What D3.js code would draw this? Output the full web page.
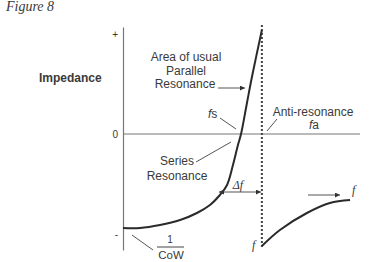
<!DOCTYPE html>
<html><head><meta charset="utf-8">
<script src="https://cdn.jsdelivr.net/npm/d3@7"></script>
<style>
html,body{margin:0;padding:0;background:#fff;}
svg{display:block;}
text{font-family:"Liberation Sans",Arial,sans-serif;fill:#3a3a3a;}
</style></head>
<body><svg id="c" width="386" height="262"></svg>
<script>
// Data (frequency units 0..100, impedance units -1..+1)
const yTickValues = [1, 0, -1];
const yTickLabels = ["+", "0", "-"];
const seriesCurveF = [0, 7.2, 15.6, 24.1, 31.2, 36.7, 40.9, 43.9, 46.4, 48.5, 49.8, 52.3, 54.4, 58.6];
const seriesCurveZ = [-0.94, -0.94, -0.91, -0.86, -0.79, -0.71, -0.61, -0.51, -0.31, -0.11, 0, 0.31, 0.57, 1.04];
const antiCurveF = [58.6, 66.2, 77.6, 87.3, 95.8];
const antiCurveZ = [-1.12, -0.96, -0.79, -0.69, -0.66];
const antiResonanceF = 58.6;
const zeroLineF = [0, 100];

const svg = d3.select("#c");
const x = d3.scaleLinear().domain([0, 100]).range([123, 360]);
const y = d3.scaleLinear().domain([-1.16, 1.07]).range([250, 27]);

const defs = svg.append("defs");
defs.append("marker").attr("id","ah").attr("viewBox","0 0 10 10").attr("refX",10).attr("refY",5)
  .attr("markerWidth",7).attr("markerHeight",5).attr("markerUnits","userSpaceOnUse").attr("orient","auto-start-reverse")
  .append("path").attr("d","M0,0L10,5L0,10z").attr("fill","#333");

// y axis
const yAxis = d3.axisLeft(y).tickValues(yTickValues).tickFormat((d,i)=>yTickLabels[i]).tickSize(0).tickPadding(5).tickSizeOuter(0);
const ga = svg.append("g").attr("transform", `translate(${x(0)},0)`).call(yAxis);
ga.select(".domain").attr("stroke","#777").attr("stroke-width",1.2);
ga.selectAll(".tick text").style("font-family","Liberation Sans, Arial, sans-serif").style("font-size","10px").attr("fill","#444");

// zero line
svg.append("line").attr("x1", x(zeroLineF[0])).attr("x2", x(zeroLineF[1])).attr("y1", y(0)).attr("y2", y(0))
  .attr("stroke","#777").attr("stroke-width",1.2);

// dotted anti-resonance line
svg.append("line").attr("x1", x(antiResonanceF)).attr("x2", x(antiResonanceF)).attr("y1", y(1.09)).attr("y2", y(-1.13))
  .attr("stroke","#444").attr("stroke-width",2).attr("stroke-dasharray","2,2");

const line = d3.line().x(d=>x(d[0])).y(d=>y(d[1])).curve(d3.curveCatmullRom.alpha(0.5));
svg.append("path").datum(d3.zip(seriesCurveF, seriesCurveZ)).attr("d", line)
  .attr("fill","none").attr("stroke","#2a2a2a").attr("stroke-width",2);
svg.append("path").datum(d3.zip(antiCurveF, antiCurveZ)).attr("d", line)
  .attr("fill","none").attr("stroke","#2a2a2a").attr("stroke-width",2);

// texts
function t(txt, px, py, opts={}) {
  const e = svg.append("text").attr("x",px).attr("y",py).text(txt)
    .style("font-size",(opts.size||12)+"px").attr("text-anchor",opts.anchor||"start");
  if (opts.italic) e.style("font-style","italic");
  if (opts.bold) e.style("font-weight","bold");
  if (opts.family) e.style("font-family",opts.family);
  if (opts.fill) e.attr("fill",opts.fill);
  return e;
}
function seg(x1,y1,x2,y2,arrow,both){
  const l = svg.append("line").attr("x1",x1).attr("y1",y1).attr("x2",x2).attr("y2",y2)
    .attr("stroke","#555").attr("stroke-width",1);
  if (arrow) l.attr("marker-end","url(#ah)");
  if (both) l.attr("marker-start","url(#ah)");
}
t("Figure 8", 6, 11, {size:14, italic:true, family:"Liberation Serif, Times New Roman, serif", fill:"#222"});
t("Impedance", 39, 82, {size:12, bold:true, fill:"#222"});
t("Area of usual", 186, 61, {anchor:"middle"});
t("Parallel", 186, 75, {anchor:"middle"});
t("Resonance", 185, 88, {anchor:"middle"});
seg(218, 88, 245, 88, true);

const fs = t("", 208, 118, {});
fs.append("tspan").text("f").style("font-style","italic");
fs.append("tspan").text("s");
seg(220, 118, 236, 129);

t("Anti-resonance", 313, 116, {anchor:"middle"});
const fa = t("", 314, 129, {anchor:"middle"});
fa.append("tspan").text("f").style("font-style","italic");
fa.append("tspan").text("a");
seg(277, 119, 267, 131);

t("Series", 177, 165, {anchor:"middle"});
t("Resonance", 177, 180, {anchor:"middle"});
seg(196, 162, 231, 142);

t("\u0394f", 238, 189, {anchor:"middle", italic:true, family:"Liberation Serif, Times New Roman, serif"});
seg(219, 192, 261, 192, true, true);

seg(308, 195, 340, 195, true);
t("f", 352, 194, {italic:true, family:"Liberation Serif, Times New Roman, serif"});
t("f", 252, 249, {italic:true, family:"Liberation Serif, Times New Roman, serif"});

t("1", 170, 243, {anchor:"middle", size:10});
svg.append("line").attr("x1",157).attr("x2",184).attr("y1",247).attr("y2",247).attr("stroke","#444").attr("stroke-width",1);
t("CoW", 171, 259, {anchor:"middle", size:11.5});
seg(132, 235, 153, 250);
</script></body></html>
